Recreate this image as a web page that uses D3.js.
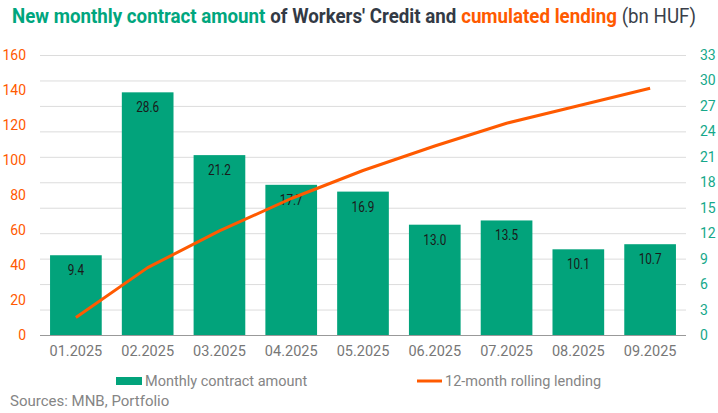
<!DOCTYPE html>
<html lang="en">
<head>
  <meta charset="UTF-8">
  <style>
    html, body { margin: 0; padding: 0; background: #fff; }
    svg text { font-family: Roboto, "Noto Sans", sans-serif; }
  </style>
  <script src="https://d3js.org/d3.v7.min.js"></script>
</head>
<body>
  <svg id="chart" width="718" height="413"></svg>

  <script>
    // data
    const months = ["01.2025", "02.2025", "03.2025", "04.2025", "05.2025", "06.2025", "07.2025", "08.2025", "09.2025"];
    const monthly = [9.4, 28.6, 21.2, 17.7, 16.9, 13.0, 13.5, 10.1, 10.7];
    const rolling = [10, 38.5, 59.5, 78, 94, 108, 121, 131, 141];
    const leftTicks = [0, 20, 40, 60, 80, 100, 120, 140, 160];
    const rightTicks = [0, 3, 6, 9, 12, 15, 18, 21, 24, 27, 30, 33];

    const green = "#02a37b";
    const orange = "#ff5a00";

    const svg = d3.select("#chart");

    const x = d3.scaleBand().domain(months).range([40, 686])
      .paddingInner(0.28).paddingOuter(0.14);
    const yLeft = d3.scaleLinear().domain([0, 160]).range([335, 55]);
    const yRight = d3.scaleLinear().domain([0, 33]).range([335, 55]);

    // gridlines follow the right axis
    svg.append("g")
      .attr("transform", "translate(40,0)")
      .call(d3.axisLeft(yRight).tickValues(rightTicks).tickSize(-646).tickFormat(""))
      .call(g => g.select(".domain").remove())
      .call(g => g.selectAll("line").attr("stroke", "#dcdcdc"));

    // bars
    svg.append("g").selectAll("rect")
      .data(monthly)
      .join("rect")
      .attr("x", (d, i) => x(months[i]))
      .attr("width", x.bandwidth())
      .attr("y", d => yRight(d))
      .attr("height", d => yRight(0) - yRight(d))
      .attr("fill", green);

    // bar labels
    svg.append("g").selectAll("text")
      .data(monthly)
      .join("text")
      .attr("transform", (d, i) => `translate(${x(months[i]) + x.bandwidth() / 2},${yRight(d) + 20}) scale(0.84,1)`)
      .attr("text-anchor", "middle")
      .attr("font-size", 14)
      .attr("fill", "#1a1a1a")
      .text(d => d.toFixed(1));

    // baseline
    svg.append("line")
      .attr("x1", 40).attr("x2", 686)
      .attr("y1", 335.5).attr("y2", 335.5)
      .attr("stroke", "#999");

    // rolling line
    const line = d3.line()
      .x((d, i) => x(months[i]) + x.bandwidth() / 2)
      .y(d => yLeft(d));

    svg.append("path")
      .datum(rolling)
      .attr("fill", "none")
      .attr("stroke", orange)
      .attr("stroke-width", 3)
      .attr("stroke-linejoin", "round")
      .attr("d", line);

    // axes
    const xAxis = svg.append("g")
      .attr("transform", "translate(0,335)")
      .call(d3.axisBottom(x).tickSize(0).tickPadding(11));
    xAxis.select(".domain").remove();
    xAxis.selectAll("text")
      .attr("font-size", 14.5)
      .attr("fill", "#777");

    const leftAxis = svg.append("g")
      .attr("transform", "translate(26,0)")
      .call(d3.axisLeft(yLeft).tickValues(leftTicks).tickSize(0).tickPadding(0));
    leftAxis.select(".domain").remove();
    leftAxis.selectAll("text")
      .attr("font-size", 14)
      .attr("fill", orange);

    const rightAxis = svg.append("g")
      .attr("transform", "translate(700,0)")
      .call(d3.axisRight(yRight).tickValues(rightTicks).tickSize(0).tickPadding(0));
    rightAxis.select(".domain").remove();
    rightAxis.selectAll("text")
      .attr("font-size", 14)
      .attr("fill", "#16a88a");

    // title, built from pieces then squeezed to the reference width
    const titleParts = [
      { t: "New monthly contract amount", c: "#00a67e", w: "bold" },
      { t: " of Workers' Credit and ", c: "#333a45", w: "bold" },
      { t: "cumulated lending", c: orange, w: "bold" },
      { t: " (bn HUF)", c: "#3a3f4a", w: "normal" }
    ];
    const titleG = svg.append("g");
    let cursor = 0;
    titleParts.forEach(p => {
      const el = titleG.append("text")
        .attr("x", cursor).attr("y", 0)
        .attr("font-size", 20)
        .attr("font-weight", p.w)
        .attr("fill", p.c)
        .style("white-space", "pre")
        .attr("xml:space", "preserve")
        .text(p.t);
      cursor += el.node().getComputedTextLength();
    });
    const k = 684 / cursor;
    titleG.attr("transform", `translate(12,23) scale(${k},1)`);

    // legend
    const legend = svg.append("g").attr("font-size", 14.5).attr("fill", "#858585");
    legend.append("rect")
      .attr("x", 116).attr("y", 377).attr("width", 26).attr("height", 8)
      .attr("fill", green);
    legend.append("text")
      .attr("x", 145).attr("y", 386)
      .text("Monthly contract amount");
    legend.append("line")
      .attr("x1", 417).attr("x2", 442).attr("y1", 381).attr("y2", 381)
      .attr("stroke", orange).attr("stroke-width", 3);
    legend.append("text")
      .attr("x", 445).attr("y", 386)
      .text("12-month rolling lending");

    svg.append("text")
      .attr("x", 10).attr("y", 406)
      .attr("font-size", 15)
      .attr("fill", "#858585")
      .text("Sources: MNB, Portfolio");
  </script>
</body>
</html>
